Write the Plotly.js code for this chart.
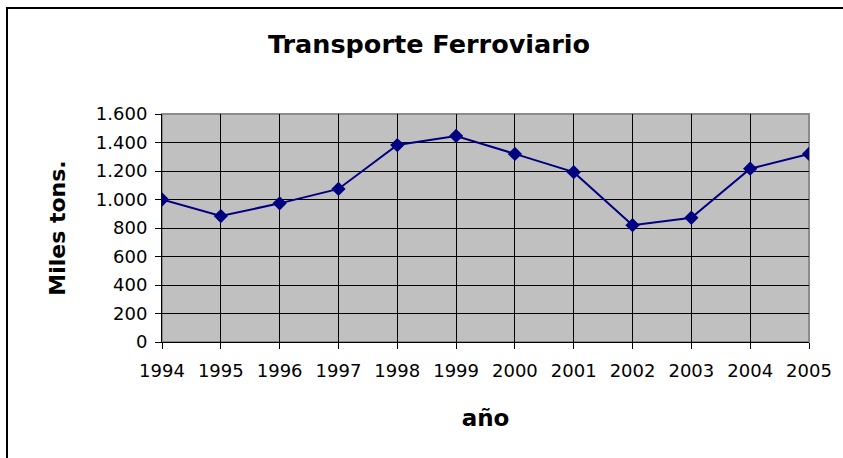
<!DOCTYPE html>
<html>
<head>
<meta charset="utf-8">
<script src="https://cdn.plot.ly/plotly-3.0.1.min.js"></script>
<style>
  html, body { margin: 0; padding: 0; background: #ffffff; }
  #frame { position: absolute; left: 6px; top: 7px; width: 900px; height: 500px;
           border-left: 2px solid #000; border-top: 2px solid #000; box-sizing: border-box; }
  #chart { position: absolute; left: 0; top: 0; width: 843px; height: 458px; }
</style>
</head>
<body>
<div id="frame"></div>
<div id="chart"></div>
<script>
const years = [1994, 1995, 1996, 1997, 1998, 1999, 2000, 2001, 2002, 2003, 2004, 2005];
const milesTons = [1000, 884, 973, 1074, 1382, 1446, 1320, 1192, 820, 872, 1216, 1320];
const yTicks = [0, 200, 400, 600, 800, 1000, 1200, 1400, 1600];

const chartTitle = 'Transporte Ferroviario';
const xTitle = 'año';
const yTitle = 'Miles tons.';

const font = 'DejaVu Sans, Liberation Sans, Arial, sans-serif';

const trace = {
  x: years,
  y: milesTons,
  type: 'scatter',
  mode: 'lines+markers',
  line: { color: '#000080', width: 2 },
  marker: { symbol: 'diamond', size: 11, color: '#000080' },
  hoverinfo: 'x+y'
};

const layout = {
  width: 843,
  height: 458,
  paper_bgcolor: 'rgba(0,0,0,0)',
  plot_bgcolor: '#C0C0C0',
  separators: ',.',
  showlegend: false,
  margin: { l: 162, r: 34, t: 114, b: 116, pad: 0 },
  font: { family: font, color: '#000', size: 18 },
  title: {
    text: chartTitle,
    font: { family: font, size: 25.5, color: '#000', weight: 'bold' },
    x: 429 / 843, xref: 'container', xanchor: 'center',
    y: 1 - 44 / 458, yref: 'container', yanchor: 'middle'
  },
  xaxis: {
    type: 'linear',
    range: [years[0], years[years.length - 1]],
    tickvals: years,
    ticktext: years.map(String),
    showgrid: true, gridcolor: '#000', gridwidth: 1,
    zeroline: false,
    showline: true, linecolor: '#000', linewidth: 1,
    ticks: 'outside', ticklen: 6, tickcolor: '#000', tickwidth: 1,
    tickfont: { family: font, size: 18, color: '#000' },
    ticklabelstandoff: 6,
    automargin: false,
    title: { text: xTitle, font: { family: font, size: 23, color: '#000', weight: 'bold' }, standoff: 30 }
  },
  yaxis: {
    range: [0, 1600],
    tickvals: yTicks,
    tickformat: ',d',
    showgrid: true, gridcolor: '#000', gridwidth: 1,
    zeroline: false,
    showline: true, linecolor: '#000', linewidth: 1,
    ticks: 'outside', ticklen: 6, tickcolor: '#000', tickwidth: 1,
    tickfont: { family: font, size: 18, color: '#000' },
    ticklabelstandoff: 4,
    automargin: false,
    title: { text: yTitle, font: { family: font, size: 22, color: '#000', weight: 'bold' }, standoff: 24 }
  },
  shapes: [{
    type: 'rect', xref: 'paper', yref: 'paper', x0: 0, x1: 1, y0: 0, y1: 1,
    line: { color: '#8C8C8C', width: 2 }, layer: 'below', fillcolor: 'rgba(0,0,0,0)'
  }]
};

Plotly.newPlot('chart', [trace], layout, { displayModeBar: false, staticPlot: true });
</script>
</body>
</html>
